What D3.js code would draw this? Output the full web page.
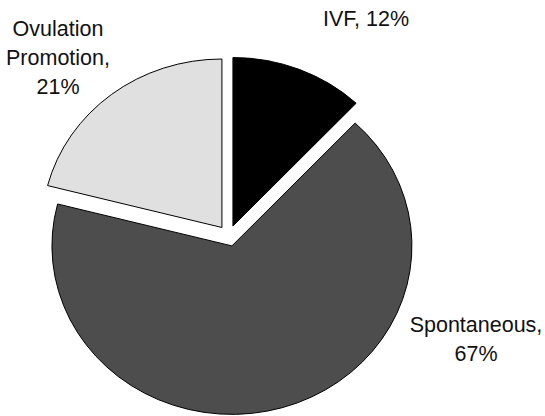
<!DOCTYPE html>
<html>
<head>
<meta charset="utf-8">
<script src="https://cdn.jsdelivr.net/npm/d3@7"></script>
<style>
  body { margin: 0; background: #fff; }
  text { font-family: "Liberation Sans", Arial, sans-serif; font-size: 21.5px; fill: #111; }
</style>
</head>
<body>
<script>
// chart data
var categories = ["IVF", "Spontaneous", "Ovulation Promotion"];
var values = [12, 67, 21];
var colors = ["#000000", "#4d4d4d", "#e0e0e0"];

// label lines for each slice (same order)
var labelLines = [["IVF, 12%"], ["Spontaneous,", "67%"], ["Ovulation", "Promotion,", "21%"]];

var svgWidth = 545;
var svgHeight = 416;

var radius = 168.5;
var stretchX = 180 / radius; // pie is a bit wider than tall
var explode = 10.5;
var cx = 228.8, cy = 235.8;

var svg = d3.select("body")
  .append("svg")
  .attr("width", svgWidth)
  .attr("height", svgHeight);

var pieGroup = svg.append("g")
  .attr("transform", `translate(${cx}, ${cy}) scale(${stretchX}, 1)`);

var pie = d3.pie().sort(null).value(d => d);
var arcs = pie(values);

var arc = d3.arc().innerRadius(0).outerRadius(radius);

pieGroup.selectAll("path")
  .data(arcs)
  .enter()
  .append("path")
  .attr("d", arc)
  .attr("transform", function(d) {
    var mid = (d.startAngle + d.endAngle) / 2;
    return `translate(${Math.sin(mid) * explode}, ${-Math.cos(mid) * explode})`;
  })
  .attr("fill", (d, i) => colors[i])
  .attr("stroke", "#000")
  .attr("stroke-width", 1)
  .attr("vector-effect", "non-scaling-stroke");

// labels (positions picked to match the picture)
var labelPos = [[366, 26], [476, 332], [58, 36]];
var lineHeight = 29;

labelLines.forEach(function(lines, i) {
  var t = svg.append("text")
    .attr("text-anchor", "middle")
    .attr("x", labelPos[i][0])
    .attr("y", labelPos[i][1]);
  lines.forEach(function(line, j) {
    t.append("tspan")
      .attr("x", labelPos[i][0])
      .attr("y", labelPos[i][1] + j * lineHeight)
      .text(line);
  });
});
</script>
</body>
</html>
